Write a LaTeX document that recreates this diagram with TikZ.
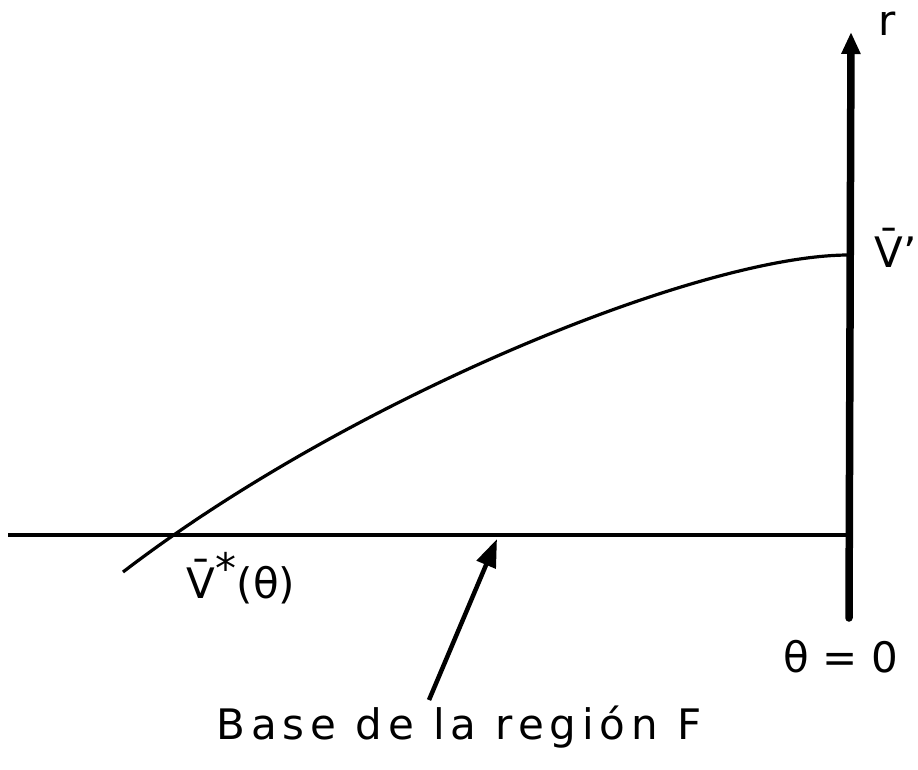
\documentclass[tikz,border=0pt]{standalone}
\usepackage{fontspec}
\setmainfont{DejaVu Sans}
\usetikzlibrary{arrows.meta}
\begin{document}
\begin{tikzpicture}[x=1pt,y=-1pt,
  thinline/.style={line width=3.2pt},
  axisline/.style={line width=7.5pt,line cap=round},
  lbl/.style={inner sep=0pt,font=\fontsize{42}{46}\selectfont}]
\useasboundingbox (0,0) rectangle (918,770);
% axis
\coordinate (axb) at (849,618);
\coordinate (axt) at (851,32);
\draw[axisline,-{Triangle[length=22pt,width=18pt]}] (axb) -- (axt);
% horizontal base line
\coordinate (hl) at (8,535);
\coordinate (hr) at (849,535);
\draw[thinline] (hl) -- (hr);
% curve
\coordinate (cs) at (123,572);
\coordinate (ce) at (849,255);
\draw[thinline] (cs) .. controls (350,398) and (700,255) .. (ce);
% labels
\node[lbl] (r) at (887,24) {r};
\node[lbl] (vp) at (896,248) {\={V}’};
\node[lbl] (vs) at (241,578) {\={V}\raisebox{0.35em}{*}(θ)};
\node[lbl] (t0) at (841,657) {θ = 0};
\node[lbl] (base) at (459,727) {\addfontfeature{LetterSpace=14}Base de la región F};
% arrow
\coordinate (ab) at (429,700);
\coordinate (at) at (497,539);
\draw[line width=4.5pt,-{Triangle[length=28pt,width=20pt]}] (ab) -- (at);
\end{tikzpicture}
\end{document}
